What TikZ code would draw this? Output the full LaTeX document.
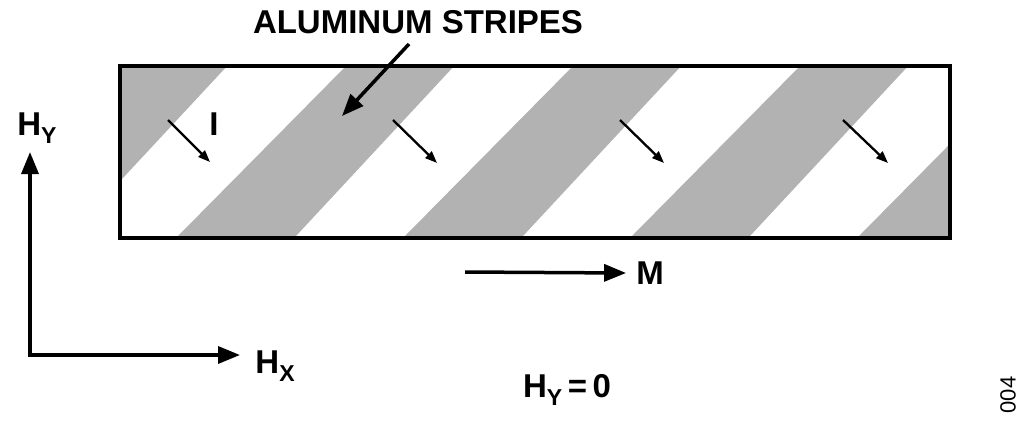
\documentclass[tikz,border=0pt]{standalone}
\usepackage{fontspec}
\setmainfont{Liberation Sans}
\usetikzlibrary{arrows.meta}
\begin{document}
\begin{tikzpicture}[x=1pt,y=-1pt,
  lbl/.style={font=\fontsize{33}{35}\selectfont\bfseries,inner sep=0},
  bigarr/.style={line width=3.5pt,-{Triangle[length=22pt,width=17pt]}},
  smallarr/.style={line width=2.3pt,-{Triangle[length=12pt,width=9pt]}}]
\useasboundingbox (0,0) rectangle (1024,426);
\begin{scope}
\clip (118,64) rectangle (948,236);
\foreach \k in {-1,0,1,2,3}{
  \pgfmathsetmacro{\b}{178+227*\k}
  \fill[gray!60] (\b,236) -- (\b+118,236) -- (\b+108+170,64) -- (\b+170,64) -- cycle;
}
\end{scope}
\node[draw,line width=3.5pt,minimum width=830pt,minimum height=172pt,anchor=north west,inner sep=0] (box) at (118,64) {};
\coordinate (i1a) at (168,120); \coordinate (i1b) at (210,162);
\coordinate (i2a) at (393,120); \coordinate (i2b) at (437,163);
\coordinate (i3a) at (620,120); \coordinate (i3b) at (664,163);
\coordinate (i4a) at (843,120); \coordinate (i4b) at (888,163);
\foreach \n in {1,2,3,4}{\draw[smallarr] (i\n a) -- (i\n b);}
\node[lbl] (I) at (214,124) {I};
\node[lbl] (al) at (418,22) {ALUMINUM STRIPES};
\coordinate (alt) at (409,44);
\coordinate (alh) at (342,116);
\draw[bigarr] (alt) -- (alh);
\coordinate (ma) at (465,272);
\node[lbl] (M) at (650,273) {M};
\draw[bigarr] (ma) -- ([xshift=-10pt]M.west);
\coordinate (o) at (30,355);
\coordinate (yt) at (30,152);
\coordinate (xt) at (240,355);
\draw[line width=3.5pt,{Triangle[length=22pt,width=17pt]}-{Triangle[length=22pt,width=17pt]}] (yt) -- (o) -- (xt);
\node[lbl] (hy) at (37,128) {H\raisebox{-8pt}{\fontsize{23}{25}\selectfont Y}};
\node[lbl] (hx) at (275,366) {H\raisebox{-8pt}{\fontsize{23}{25}\selectfont X}};
\node[lbl] (hy0) at (567,390) {H\raisebox{-8pt}{\fontsize{23}{25}\selectfont Y}\,=\,0};
\node[font=\fontsize{22}{24}\selectfont,rotate=90,inner sep=0] (n) at (1008,395) {004};
\end{tikzpicture}
\end{document}
